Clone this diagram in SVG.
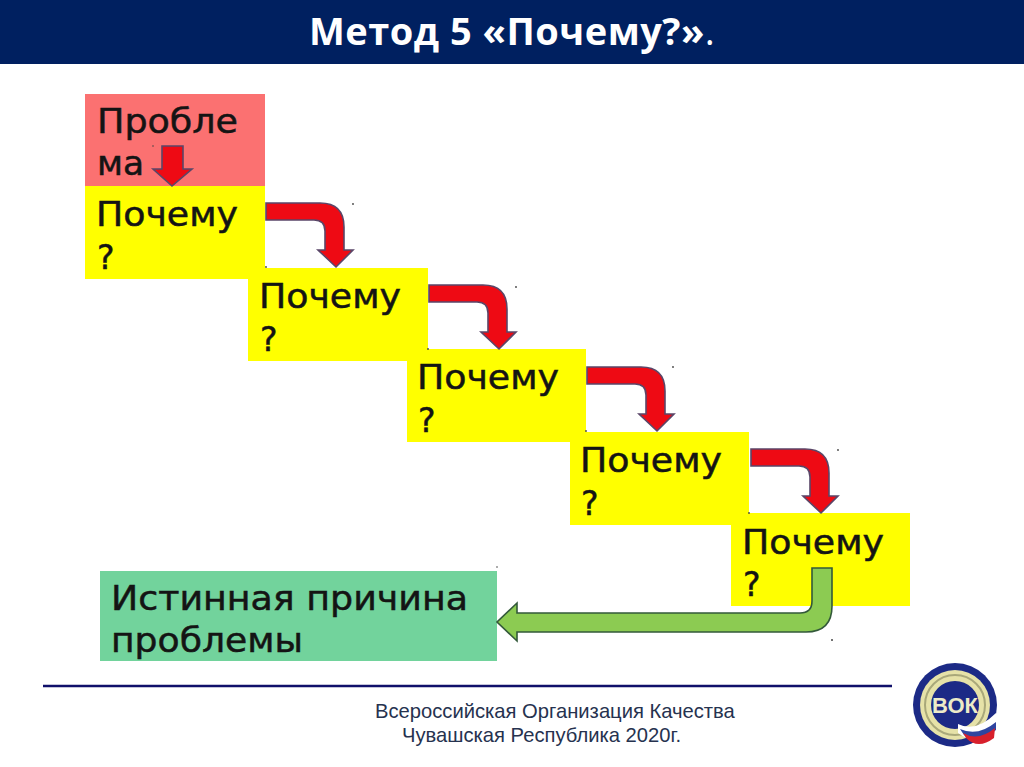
<svg xmlns="http://www.w3.org/2000/svg" width="1024" height="767" viewBox="0 0 1024 767">
<style>
.lbl{font-family:"DejaVu Sans","Noto Sans",sans-serif;font-size:33px;fill:#141414;stroke:#141414;stroke-width:.5}
.why{fill:#ffff00}
.red{fill:#ee0a14;stroke:#5a4668;stroke-width:1.6}
.grn{fill:#8ccb52;stroke:#33593a;stroke-width:1.6}
.foot{font-family:"Liberation Sans",Arial,sans-serif;font-size:20.2px;fill:#26324f}
.speck{fill:#444}
</style>
<defs>
<path id="bend" class="red" d="M266 203H320Q344 203 344 227V250H353L336 267L318 250H325V231Q325 220 314 220H266Z"/>
</defs>
<rect width="1024" height="767" fill="#fff"/>
<g id="header">
<rect width="1024" height="64" fill="#002060"/>
<text x="309" y="45" font-family="'Open Sans','Liberation Sans',sans-serif" font-weight="700" font-size="38" fill="#fff" letter-spacing=".5">Метод 5 «Почему?»<tspan font-weight="400">.</tspan></text>
</g>
<g id="problem">
<rect x="85" y="94" width="180" height="92" fill="#fb7171"/>
<text class="lbl" x="97" y="133" textLength="141" lengthAdjust="spacingAndGlyphs">Пробле</text>
<text class="lbl" x="97" y="175" textLength="47" lengthAdjust="spacingAndGlyphs">ма</text>
</g>
<g id="why1">
<rect class="why" x="85" y="186" width="180" height="93"/>
<text class="lbl" x="96" y="226" textLength="142" lengthAdjust="spacingAndGlyphs">Почему</text>
<text class="lbl" x="97" y="269">?</text>
</g>
<g id="why2">
<rect class="why" x="248" y="268" width="180" height="93"/>
<text class="lbl" x="259" y="308" textLength="142" lengthAdjust="spacingAndGlyphs">Почему</text>
<text class="lbl" x="260" y="351">?</text>
</g>
<g id="why3">
<rect class="why" x="407" y="349" width="179" height="93"/>
<text class="lbl" x="417" y="389" textLength="142" lengthAdjust="spacingAndGlyphs">Почему</text>
<text class="lbl" x="418" y="432">?</text>
</g>
<g id="why4">
<rect class="why" x="570" y="432" width="179" height="93"/>
<text class="lbl" x="580" y="472" textLength="142" lengthAdjust="spacingAndGlyphs">Почему</text>
<text class="lbl" x="581" y="515">?</text>
</g>
<g id="why5">
<rect class="why" x="731" y="513" width="179" height="93"/>
<text class="lbl" x="742" y="554" textLength="142" lengthAdjust="spacingAndGlyphs">Почему</text>
<text class="lbl" x="743" y="596">?</text>
</g>
<g id="cause">
<rect x="100" y="571" width="397" height="90" fill="#72d39c"/>
<text class="lbl" x="111" y="610" textLength="357" lengthAdjust="spacingAndGlyphs">Истинная причина</text>
<text class="lbl" x="111" y="652" textLength="192" lengthAdjust="spacingAndGlyphs">проблемы</text>
</g>
<g id="connectors">
<path class="red" d="M162 146H183V169H192L172 186L153 169H162Z"/>
<use href="#bend"/>
<use href="#bend" x="163" y="82"/>
<use href="#bend" x="321" y="164"/>
<use href="#bend" x="485" y="246"/>
<path class="grn" d="M812 568H832V606Q832 632 806 632H517V641L497 622L517 603V613H800Q812 613 812 601Z"/>
</g>
<g id="specks">
<circle class="speck" cx="153" cy="146" r="0.8"/><circle class="speck" cx="353" cy="204" r="0.9"/><circle class="speck" cx="266" cy="267" r="0.9"/>
<circle class="speck" cx="516" cy="287" r="0.9"/><circle class="speck" cx="428" cy="349" r="0.9"/><circle class="speck" cx="673" cy="367" r="0.9"/>
<circle class="speck" cx="586" cy="431" r="0.9"/><circle class="speck" cx="838" cy="450" r="0.9"/><circle class="speck" cx="749" cy="513" r="0.9"/>
<circle class="speck" cx="832" cy="640" r="1"/><circle class="speck" cx="497" cy="567" r="0.8"/>
</g>
<g id="footer">
<line x1="43" y1="686" x2="892" y2="686" stroke="#10106a" stroke-width="2.5"/>
<text class="foot" x="375" y="718">Всероссийская Организация Качества</text>
<text class="foot" x="402" y="742">Чувашская Республика 2020г.</text>
</g>
<g id="logo">
<circle cx="955" cy="705" r="42" fill="#1c2a86"/>
<circle cx="955" cy="705" r="35" fill="#e6e2a8"/>
<circle cx="955" cy="705" r="30" fill="none" stroke="#a9a87a" stroke-width="2"/>
<circle cx="955" cy="705" r="24" fill="#1c2a86"/>
<text x="955" y="713" text-anchor="middle" font-family="'Liberation Sans',sans-serif" font-weight="700" font-size="22" fill="#ecebc8">ВОК</text>
<path d="M958 724Q976 733 996 713V728Q978 748 958 733Z" fill="#fff"/>
<path d="M960 729Q978 737 996 722V730Q978 745 964 735Z" fill="#2f45a0"/>
<path d="M963 733Q978 742 995 728L994 738Q978 750 966 738Z" fill="#d8202c"/>
</g>
</svg>
